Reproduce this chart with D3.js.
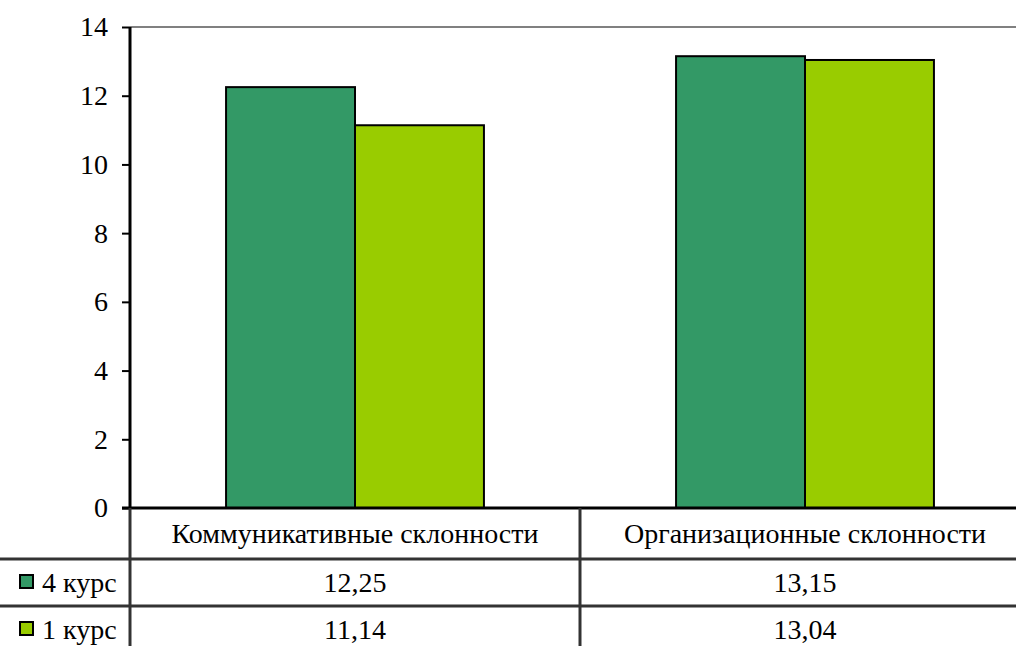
<!DOCTYPE html>
<html>
<head>
<meta charset="utf-8">
<script src="https://cdn.jsdelivr.net/npm/d3@7"></script>
<style>
  body { margin: 0; background: #fff; }
  svg { display: block; }
</style>
</head>
<body>
<div id="chart-area"></div>
<script>
// SVG Size
var width = 1016,
    height = 646;

// data
var categories = ["Коммуникативные склонности", "Организационные склонности"];
var seriesNames = ["4 курс", "1 курс"];
var course4 = [12.25, 13.15];
var course1 = [11.14, 13.04];
var valueLabels = [["12,25", "13,15"], ["11,14", "13,04"]];
var yTicks = [0, 2, 4, 6, 8, 10, 12, 14];
var colors = ["#339966", "#99cc00"];

var series = [course4, course1];
var fontSize = 28;
var serif = "'Liberation Serif'";

var plotLeft = 130, plotTop = 27, plotBottom = 508, plotRight = 1030;
var rowY = [plotBottom, 559, 606];

var svg = d3.select("#chart-area").append("svg")
    .attr("width", width)
    .attr("height", height)
    .style("font-family", serif);

var x = d3.scaleBand()
    .domain(categories)
    .range([plotLeft, plotRight]);

var xSeries = d3.scaleBand()
    .domain(seriesNames)
    .range([0, x.bandwidth()])
    .paddingOuter(0.745)
    .paddingInner(0);

var y = d3.scaleLinear()
    .domain([0, 14])
    .range([plotBottom, plotTop]);

// top border of plot area
svg.append("line")
    .attr("x1", plotLeft).attr("x2", width)
    .attr("y1", y(14)).attr("y2", y(14))
    .attr("stroke", "#808080")
    .attr("stroke-width", 2);

// bars
seriesNames.forEach(function(name, i) {
  svg.append("g").selectAll("rect")
    .data(series[i])
    .enter()
    .append("rect")
    .attr("x", function(d, j) { return x(categories[j]) + xSeries(name); })
    .attr("y", function(d) { return y(d); })
    .attr("width", xSeries.bandwidth())
    .attr("height", function(d) { return plotBottom - y(d); })
    .attr("fill", colors[i])
    .attr("stroke", "#000")
    .attr("stroke-width", 2);
});

// y axis
var yAxis = d3.axisLeft(y)
    .tickValues(yTicks)
    .tickSize(8)
    .tickPadding(14)
    .tickFormat(d3.format("d"));

var gy = svg.append("g")
    .attr("transform", "translate(" + plotLeft + ",0)")
    .call(yAxis)
    .attr("font-family", null)
    .attr("font-size", null);
gy.select(".domain").remove();
gy.selectAll("line").attr("stroke", "#000").attr("stroke-width", 2);
gy.selectAll("text")
    .style("font-family", serif)
    .attr("font-size", fontSize)
    .attr("fill", "#000");

svg.append("line")
    .attr("x1", plotLeft).attr("x2", plotLeft)
    .attr("y1", plotTop).attr("y2", plotBottom)
    .attr("stroke", "#000")
    .attr("stroke-width", 3);

// data table
var grid = svg.append("g").attr("stroke", "#333").attr("stroke-width", 3);
grid.append("line").attr("x1", plotLeft - 8).attr("x2", width).attr("y1", plotBottom).attr("y2", plotBottom).attr("stroke", "#000");
grid.append("line").attr("x1", 0).attr("x2", width).attr("y1", rowY[1]).attr("y2", rowY[1]);
grid.append("line").attr("x1", 0).attr("x2", width).attr("y1", rowY[2]).attr("y2", rowY[2]);
grid.append("line").attr("x1", plotLeft).attr("x2", plotLeft).attr("y1", plotBottom).attr("y2", height);
grid.append("line").attr("x1", x(categories[1])).attr("x2", x(categories[1])).attr("y1", plotBottom).attr("y2", height);

// category headers
svg.append("g").selectAll("text")
    .data(categories)
    .enter()
    .append("text")
    .attr("x", function(d) { return x(d) + x.bandwidth() / 2; })
    .attr("y", 543)
    .attr("text-anchor", "middle")
    .style("font-family", serif)
    .attr("font-size", fontSize)
    .text(function(d) { return d; });

// value rows + legend keys
var rowBase = [592, 639];
seriesNames.forEach(function(name, i) {
  var base = rowBase[i];
  svg.append("rect")
    .attr("x", 20).attr("y", base - 17)
    .attr("width", 13).attr("height", 13)
    .attr("fill", colors[i])
    .attr("stroke", "#000")
    .attr("stroke-width", 2);
  svg.append("text")
    .attr("x", 42).attr("y", base)
    .style("font-family", serif)
    .attr("font-size", fontSize)
    .text(name);
  svg.append("g").selectAll("text")
    .data(valueLabels[i])
    .enter()
    .append("text")
    .attr("x", function(d, j) { return x(categories[j]) + x.bandwidth() / 2; })
    .attr("y", base)
    .attr("text-anchor", "middle")
    .style("font-family", serif)
    .attr("font-size", fontSize)
    .text(function(d) { return d; });
});
</script>
</body>
</html>
